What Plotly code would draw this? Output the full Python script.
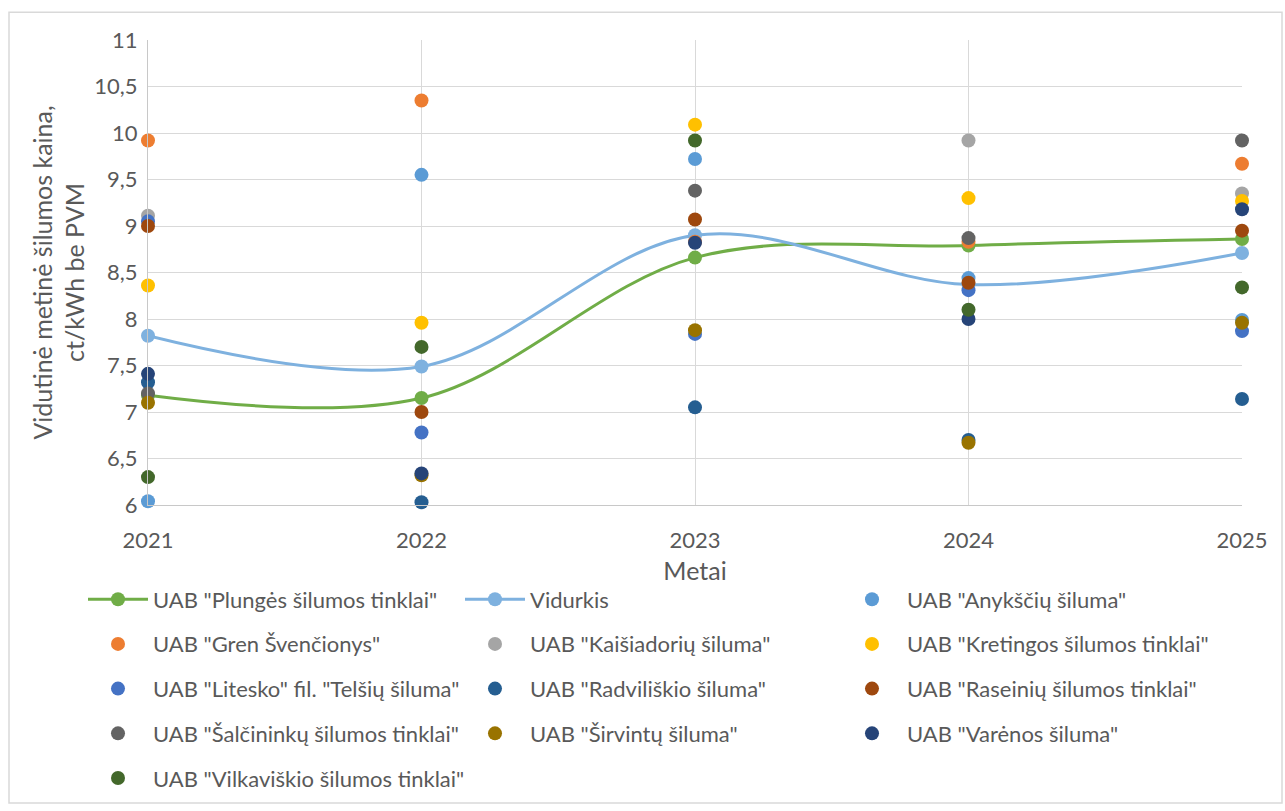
import plotly.graph_objects as go

years = [2021, 2022, 2023, 2024, 2025]
year_labels = ["2021", "2022", "2023", "2024", "2025"]

plunges = [7.18, 7.15, 8.66, 8.79, 8.86]
vidurkis = [7.82, 7.49, 8.90, 8.37, 8.71]
anyksciu = [6.04, 9.55, 9.72, 8.44, 7.99]
gren = [9.92, 10.35, 8.83, 8.83, 9.67]
kaisiadoriu = [9.11, None, None, 9.92, 9.35]
kretingos = [8.36, 7.96, 10.09, 9.30, 9.27]
litesko = [9.05, 6.78, 7.84, 8.31, 7.87]
radviliskio = [7.32, 6.03, 7.05, 6.70, 7.14]
raseiniu = [9.00, 7.00, 9.07, 8.39, 8.95]
salcininku = [7.20, None, 9.38, 8.87, 9.92]
sirvintu = [7.10, 6.32, 7.88, 6.67, 7.96]
varenos = [7.41, 6.34, 8.82, 8.00, 9.18]
vilkaviskio = [6.30, 7.70, 9.92, 8.10, 8.34]

FONT = "Lato"
TXT = "#595959"

fig = go.Figure()

line_series = [
    ('UAB "Plungės šilumos tinklai"', plunges, "#70AD47", "legend"),
    ("Vidurkis", vidurkis, "#7EB1DF", "legend"),
]
marker_series = [
    ('UAB "Anykščių šiluma"', anyksciu, "#5B9BD5", "legend"),
    ('UAB "Gren Švenčionys"', gren, "#ED7D31", "legend2"),
    ('UAB "Kaišiadorių šiluma"', kaisiadoriu, "#A5A5A5", "legend2"),
    ('UAB "Kretingos šilumos tinklai"', kretingos, "#FFC000", "legend2"),
    ('UAB "Litesko" fil. "Telšių šiluma"', litesko, "#4472C4", "legend3"),
    ('UAB "Radviliškio šiluma"', radviliskio, "#255E91", "legend3"),
    ('UAB "Raseinių šilumos tinklai"', raseiniu, "#9E480E", "legend3"),
    ('UAB "Šalčininkų šilumos tinklai"', salcininku, "#636363", "legend4"),
    ('UAB "Širvintų šiluma"', sirvintu, "#997300", "legend4"),
    ('UAB "Varėnos šiluma"', varenos, "#264478", "legend4"),
    ('UAB "Vilkaviškio šilumos tinklai"', vilkaviskio, "#43682B", "legend5"),
]

for name, vals, col, lg in line_series:
    fig.add_trace(go.Scatter(
        x=years, y=vals, name=name, mode="lines+markers",
        line=dict(color=col, width=3, shape="spline", smoothing=1.0),
        marker=dict(color=col, size=14),
        cliponaxis=False, legend=lg,
    ))
for name, vals, col, lg in marker_series:
    fig.add_trace(go.Scatter(
        x=years, y=vals, name=name, mode="markers",
        marker=dict(color=col, size=14),
        cliponaxis=False, legend=lg,
    ))

# plot area in px: x 148..1242, y 40..508
L, R, T, B = 148, 1242, 40, 508
W, H = 1285, 811
pw, ph = R - L, B - T

def px_x(p):
    return (p - L) / pw

def px_y(p):
    return (B - p) / ph

legend_common = dict(
    orientation="h", entrywidthmode="pixels",
    font=dict(family=FONT, size=22, color=TXT),
    xanchor="left", yanchor="middle", itemwidth=60,
    bgcolor="rgba(0,0,0,0)",
)
rows_y = [603, 648, 693, 738, 783]
legend_names = ["legend", "legend2", "legend3", "legend4", "legend5"]
entry_widths = [302, 302, 302, 302, 420]
lay_leg = {}
for nm, yy, ew in zip(legend_names, rows_y, entry_widths):
    lay_leg[nm] = dict(legend_common, entrywidth=ew, x=px_x(83), y=px_y(yy))

fig.update_layout(
    width=W, height=H,
    margin=dict(l=L, r=W - R, t=T, b=H - B),
    paper_bgcolor="white", plot_bgcolor="white",
    separators=", ",
    font=dict(family=FONT, color=TXT, size=22),
    showlegend=True,
    **lay_leg,
    xaxis=dict(
        range=[2021, 2025], tickvals=years, ticktext=year_labels,
        showgrid=True, gridcolor="#D9D9D9", gridwidth=1,
        showline=True, linecolor="#C8C8C8", linewidth=1,
        zeroline=False, ticks="", ticklabelstandoff=16,
        tickfont=dict(family=FONT, size=22, color=TXT),
        title=dict(text="Metai", font=dict(family=FONT, size=25, color=TXT), standoff=10),
    ),
    yaxis=dict(
        range=[6, 11], dtick=0.5, tick0=6,
        showgrid=True, gridcolor="#D9D9D9", gridwidth=1,
        showline=True, linecolor="#C8C8C8", linewidth=1,
        zeroline=False, ticks="", ticklabelstandoff=5,
        tickformat=".1~f",
        tickfont=dict(family=FONT, size=22, color=TXT),
        title=dict(text="Vidutinė metinė šilumos kaina,<br>ct/kWh be PVM",
                   font=dict(family=FONT, size=25, color=TXT), standoff=2),
    ),
    shapes=[dict(
        type="rect", xref="paper", yref="paper",
        x0=px_x(9), x1=px_x(1282), y0=px_y(808), y1=px_y(12),
        line=dict(color="#D9D9D9", width=1.5), fillcolor="rgba(0,0,0,0)", layer="below",
    )],
)

fig.write_html("out.html")
